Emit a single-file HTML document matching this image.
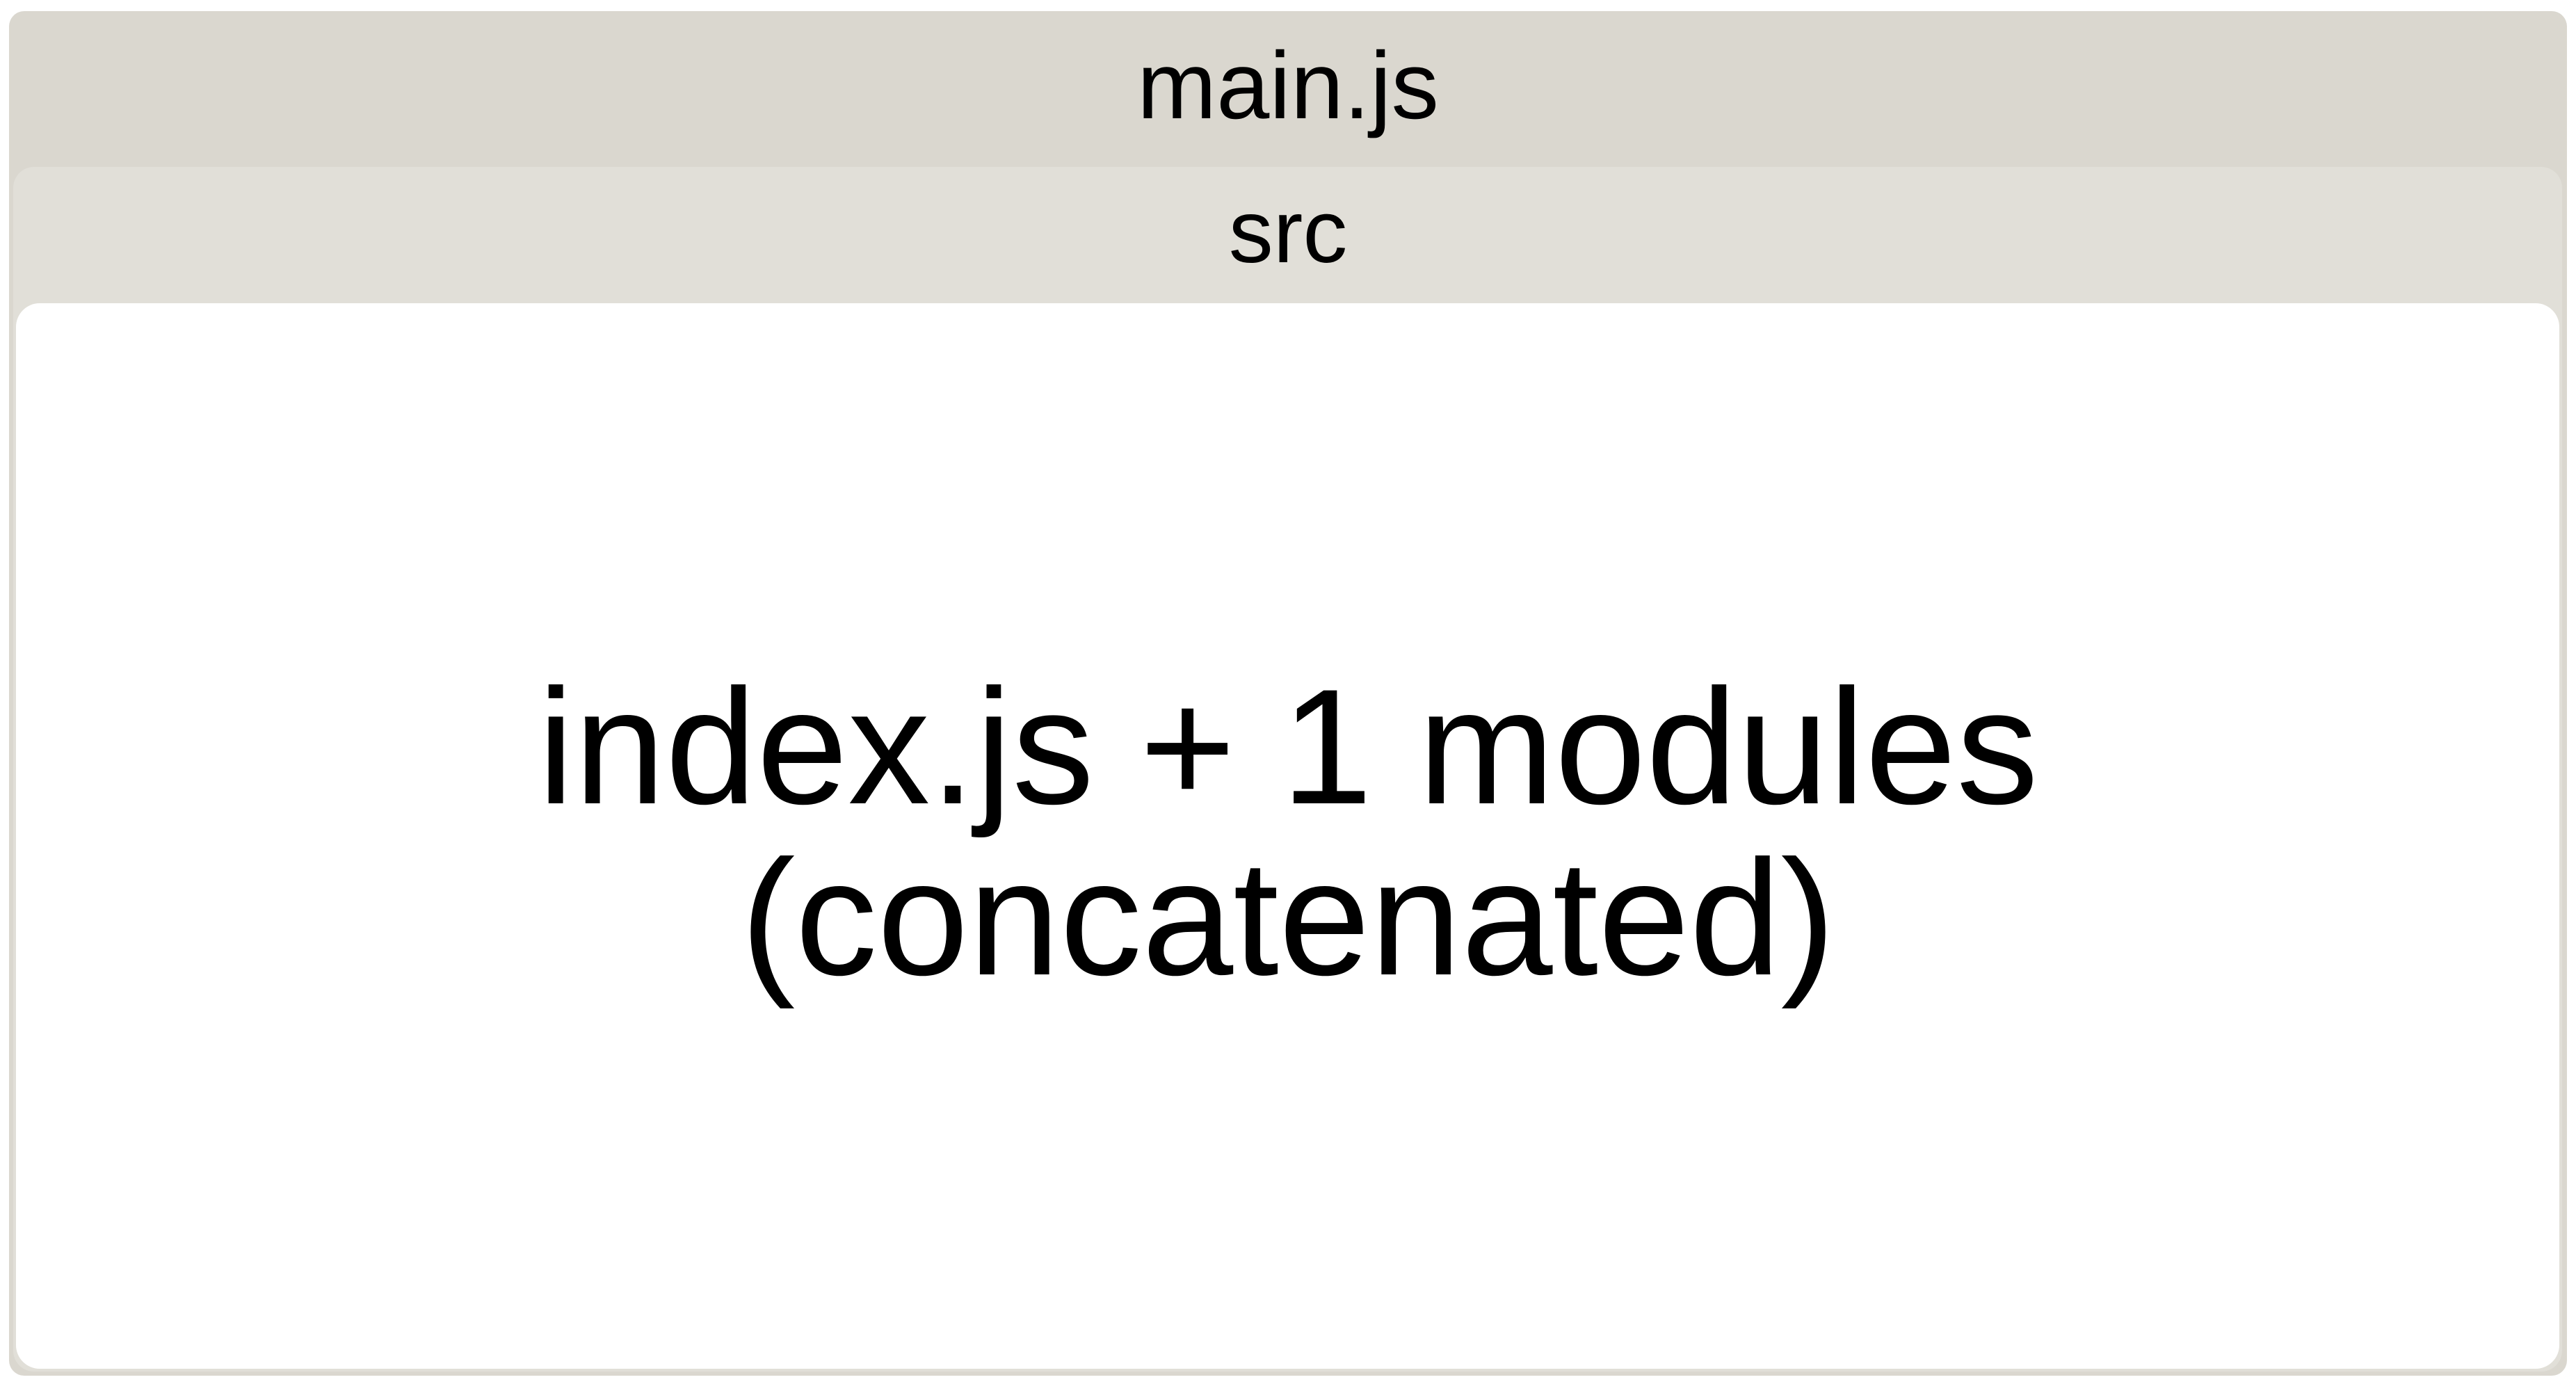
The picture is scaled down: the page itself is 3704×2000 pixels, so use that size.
<!DOCTYPE html>
<html><head><meta charset="utf-8"><style>
html,body{margin:0;padding:0;background:#fff;width:3704px;height:2000px;overflow:hidden}
svg{display:block}
text{font-family:"Liberation Sans",Arial,sans-serif;fill:#000}
</style></head><body>
<svg width="3704" height="2000" viewBox="0 0 3704 2000" xmlns="http://www.w3.org/2000/svg">
<rect x="13" y="16" width="3678" height="1962" rx="22" ry="22" fill="#dad7cf"/>
<rect x="19" y="240" width="3665" height="1732" rx="30" ry="30" fill="#e1dfd8"/>
<rect x="23" y="436" width="3657" height="1532" rx="34" ry="34" fill="#ffffff"/>
<text x="1852" y="170" font-size="137" text-anchor="middle">main.js</text>
<text x="1852" y="377" font-size="128" text-anchor="middle">src</text>
<text x="1852" y="1155" font-size="236" text-anchor="middle">index.js + 1 modules</text>
<text x="1852" y="1401" font-size="236" text-anchor="middle">(concatenated)</text>
</svg>
</body></html>
